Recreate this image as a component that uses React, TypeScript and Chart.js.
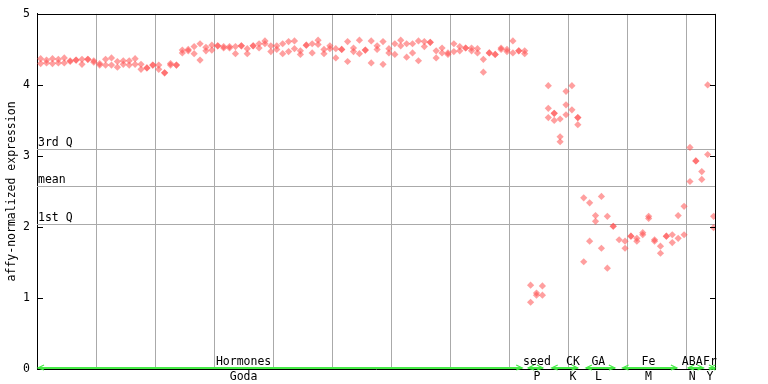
import React, { useEffect, useRef } from 'react';
import { Chart, registerables } from 'chart.js';

Chart.register(...registerables);

// replicate values per sample (index 0..114)
const rep1: (number | null)[] = [
  4.37, 4.35, 4.37, 4.36, 4.38, 4.34, 4.35, 4.36, 4.36, 4.34,
  4.30, 4.36, 4.38, 4.33, 4.34, 4.34, 4.37, 4.29, 4.24, 4.28,
  4.28, 4.17, 4.30, 4.28, 4.49, 4.50, 4.54, 4.58, 4.53, 4.56,
  4.55, 4.54, 4.54, 4.54, 4.55, 4.51, 4.55, 4.58, 4.62, 4.55,
  4.55, 4.58, 4.61, 4.62, 4.48, 4.56, 4.58, 4.63, 4.50, 4.55,
  4.51, 4.50, 4.61, 4.52, 4.63, 4.49, 4.62, 4.55, 4.61, 4.51,
  4.58, 4.63, 4.58, 4.58, 4.62, 4.61, 4.60, 4.48, 4.52, 4.45,
  4.58, 4.54, 4.52, 4.52, 4.51, 4.36, 4.45, 4.43, 4.52, 4.50,
  4.62, 4.48, 4.48,
  1.18, 1.07, 1.17,
  3.99, 3.60, 3.52, 3.91, 3.99, 3.54,
  2.41, 2.34, 2.16, 2.43, 2.15, 2.01,
  1.82, 1.80, 1.87, 1.84, 1.92, 2.15, 1.82, 1.73, 1.87, 1.89, 2.16, 2.29,
  3.12, 2.93, 2.78,
  4.00, 2.15,
];
const rep2: (number | null)[] = [
  4.30, 4.31, 4.30, 4.31, 4.31, 4.33, 4.35, 4.29, 4.36, 4.32,
  4.28, 4.28, 4.28, 4.25, 4.29, 4.28, 4.29, 4.22, 4.24, 4.28,
  4.22, 4.17, 4.28, 4.28, 4.45, 4.48, 4.44, 4.35, 4.48, 4.49,
  4.55, 4.52, 4.52, 4.44, 4.55, 4.44, 4.55, 4.52, 4.58, 4.47,
  4.50, 4.44, 4.47, 4.51, 4.43, 4.56, 4.45, 4.57, 4.44, 4.51,
  4.38, 4.50, 4.33, 4.47, 4.44, 4.49, 4.31, 4.50, 4.29, 4.45,
  4.43, 4.55, 4.39, 4.45, 4.34, 4.54, 4.60, 4.38, 4.45, 4.43,
  4.47, 4.48, 4.52, 4.48, 4.45, 4.18, 4.45, 4.43, 4.50, 4.47,
  4.45, 4.48, 4.44,
  0.94, 1.04, 1.04,
  3.67, 3.60, 3.27, 3.72, 3.65, 3.54,
  1.51, 1.80, 2.08, 1.70, 1.42, 2.01,
  null, 1.70, 1.87, 1.80, 1.89, 2.12, 1.80, 1.63, 1.87, 1.78, 1.84, 1.89,
  2.64, 2.93, 2.67,
  3.02, 1.99,
];
// third replicate exists only for some CK samples
const rep3Index = [86, 87, 88, 89, 91];
const rep3Values = [3.54, 3.50, 3.20, 3.58, 3.44];

const yTickValues = [0, 1, 2, 3, 4, 5];
const qValues = [3.10, 2.58, 2.035];
const qLabels = ['3rd Q', 'mean', '1st Q'];

const groupNames = ['Hormones', 'seed', 'CK', 'GA', 'Fe', 'ABA', 'Fr'];
const groupCodes = ['Goda', 'P', 'K', 'L', 'M', 'N', 'Y'];
const groupFrom = [0.17, 83.2, 87.2, 93.0, 99.2, 110.3, 113.9];
const groupTo = [82.2, 85.7, 91.6, 97.9, 108.4, 112.9, 114.86];
const groupMid = [35.0, 84.7, 90.8, 95.1, 103.6, 111.0, 114.0];
const gridSteps = [10, 20, 30, 40, 50, 60, 70, 80, 90, 100, 110];

const yTitle = 'affy-normalized expression';

const X_MAX = 114.86;
const X_OFF = 0.62;
const FONT = "'DejaVu Sans Mono', 'Liberation Mono', monospace";
const FONT_SIZE = 11.5;

function toPoints(vals: (number | null)[]) {
  const out: { x: number; y: number }[] = [];
  vals.forEach((v, i) => {
    if (v !== null && v !== undefined) out.push({ x: i + X_OFF, y: v });
  });
  return out;
}

const overlayPlugin = {
  id: 'overlay',
  beforeDatasetsDraw(chart: any) {
    const { ctx, chartArea } = chart;
    const ys = chart.scales.y;
    ctx.save();
    ctx.strokeStyle = '#aaaaaa';
    ctx.lineWidth = 1;
    ctx.font = `${FONT_SIZE}px ${FONT}`;
    ctx.fillStyle = '#000';
    ctx.textAlign = 'left';
    ctx.textBaseline = 'bottom';
    qValues.forEach((q, i) => {
      const py = Math.round(ys.getPixelForValue(q)) + 0.5;
      ctx.beginPath();
      ctx.moveTo(chartArea.left, py);
      ctx.lineTo(chartArea.right, py);
      ctx.stroke();
      ctx.fillText(qLabels[i], chartArea.left + 1, py - 1);
    });
    ctx.restore();
  },
  afterDraw(chart: any) {
    const { ctx, chartArea } = chart;
    const xs = chart.scales.x;
    const ys = chart.scales.y;
    ctx.save();
    // top and right border
    ctx.strokeStyle = '#000';
    ctx.lineWidth = 1;
    ctx.beginPath();
    ctx.moveTo(chartArea.left, Math.round(chartArea.top) + 0.5);
    ctx.lineTo(chartArea.right + 1, Math.round(chartArea.top) + 0.5);
    ctx.moveTo(Math.round(chartArea.right) + 0.5, chartArea.top);
    ctx.lineTo(Math.round(chartArea.right) + 0.5, chartArea.bottom + 1);
    ctx.stroke();
    // inside tick marks
    ctx.beginPath();
    yTickValues.forEach((v) => {
      const py = Math.round(ys.getPixelForValue(v)) + 0.5;
      ctx.moveTo(chartArea.left, py);
      ctx.lineTo(chartArea.left + 6, py);
      ctx.moveTo(chartArea.right - 5, py);
      ctx.lineTo(chartArea.right + 1, py);
    });
    ctx.stroke();

    // group arrows
    const gy = chartArea.bottom - 1;
    ctx.strokeStyle = 'rgb(70,235,70)';
    groupNames.forEach((_, i) => {
      const x0 = xs.getPixelForValue(groupFrom[i]);
      const x1 = xs.getPixelForValue(groupTo[i]);
      ctx.lineWidth = 2;
      ctx.beginPath();
      ctx.moveTo(x0, gy);
      ctx.lineTo(x1, gy);
      ctx.stroke();
      ctx.lineWidth = 1.2;
      ctx.beginPath();
      ctx.moveTo(x0 + 6, gy - 3);
      ctx.lineTo(x0, gy);
      ctx.lineTo(x0 + 6, gy + 2);
      ctx.moveTo(x1 - 6, gy - 3);
      ctx.lineTo(x1, gy);
      ctx.lineTo(x1 - 6, gy + 2);
      ctx.stroke();
    });

    // group labels
    ctx.fillStyle = '#000';
    ctx.font = `${FONT_SIZE}px ${FONT}`;
    ctx.textAlign = 'center';
    ctx.textBaseline = 'middle';
    groupNames.forEach((name, i) => {
      const px = xs.getPixelForValue(groupMid[i]);
      ctx.fillText(name, px, chartArea.bottom - 7);
      ctx.fillText(groupCodes[i], px, chartArea.bottom + 8);
    });

    // y title
    ctx.translate(12, (chartArea.top + chartArea.bottom) / 2);
    ctx.rotate(-Math.PI / 2);
    ctx.fillText(yTitle, 0, 0);
    ctx.restore();
  },
};

export default function App() {
  const ref = useRef<HTMLCanvasElement | null>(null);
  useEffect(() => {
    document.body.style.margin = '0';
    if (!ref.current) return;
    const pointStyle = {
      showLine: false,
      pointStyle: 'rectRot',
      pointRadius: 3.6,
      pointHoverRadius: 3.6,
      pointBackgroundColor: 'rgba(255,80,80,0.55)',
      pointBorderWidth: 0,
      pointBorderColor: 'rgba(0,0,0,0)',
    };
    const chart = new Chart(ref.current, {
      type: 'scatter',
      data: {
        datasets: [
          { label: 'rep1', data: toPoints(rep1), ...pointStyle } as any,
          { label: 'rep2', data: toPoints(rep2), ...pointStyle } as any,
          {
            label: 'rep3',
            data: rep3Index.map((k, i) => ({ x: k + X_OFF, y: rep3Values[i] })),
            ...pointStyle,
          } as any,
        ],
      },
      options: {
        responsive: false,
        animation: false,
        devicePixelRatio: 1,
        layout: { padding: { left: 0, right: 53, top: 13, bottom: 0 } },
        plugins: { legend: { display: false }, tooltip: { enabled: false } },
        scales: {
          x: {
            type: 'linear',
            min: 0,
            max: X_MAX,
            afterBuildTicks: (s: any) => {
              s.ticks = gridSteps.map((v) => ({ value: v }));
            },
            afterFit: (s: any) => {
              s.height = 15;
            },
            ticks: { display: false },
            grid: { color: '#aaaaaa', lineWidth: 1, drawTicks: false },
            border: { display: true, color: '#000', width: 1 },
          },
          y: {
            type: 'linear',
            min: 0,
            max: 5,
            afterBuildTicks: (s: any) => {
              s.ticks = yTickValues.map((v) => ({ value: v }));
            },
            afterFit: (s: any) => {
              s.width = 37;
            },
            ticks: {
              color: '#000',
              padding: 7,
              font: { family: FONT, size: FONT_SIZE },
            },
            grid: { display: false, drawTicks: false },
            border: { display: true, color: '#000', width: 1 },
          },
        },
      },
      plugins: [overlayPlugin],
    });
    return () => chart.destroy();
  }, []);
  return (
    <div style={{ width: 768, height: 384 }}>
      <canvas ref={ref} width={768} height={384} />
    </div>
  );
}
